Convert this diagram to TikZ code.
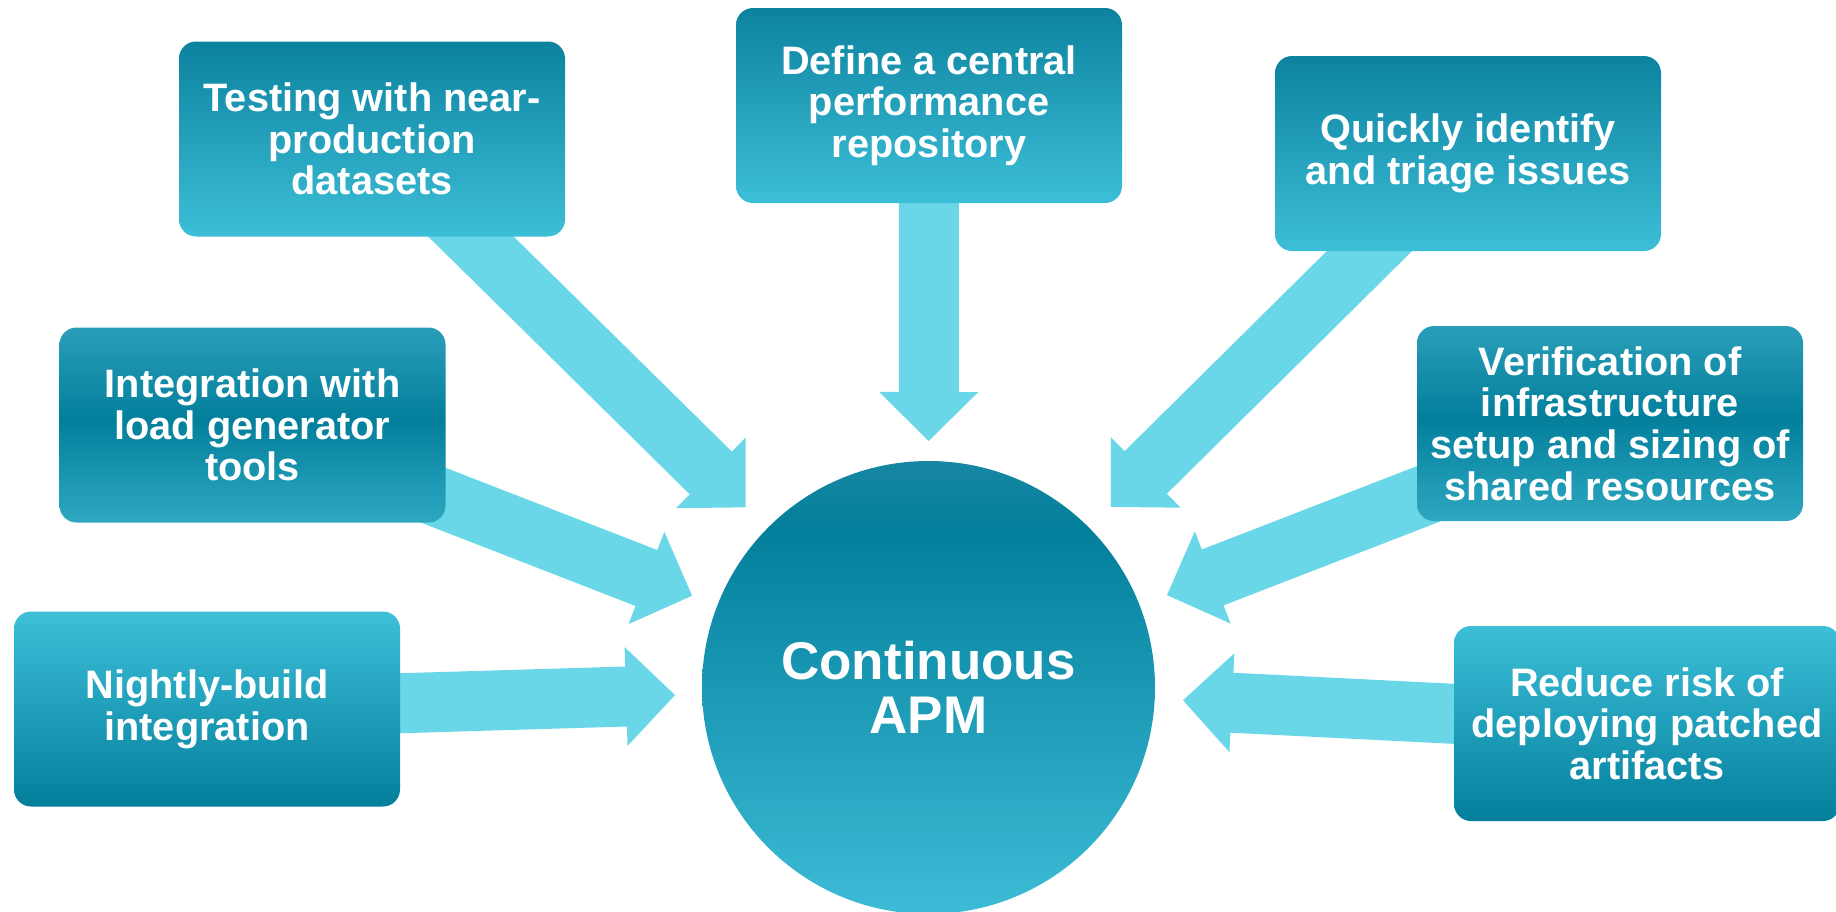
\documentclass[tikz,border=0pt]{standalone}
\usepackage{fontspec}
\setmainfont{Liberation Sans}
\usetikzlibrary{calc}
\definecolor{dk}{HTML}{037F9C}
\definecolor{dktop}{HTML}{0C829F}
\definecolor{lt}{HTML}{3DBFD8}
\definecolor{mt}{HTML}{2A9EB8}
\definecolor{mb}{HTML}{2EA8C1}
\definecolor{ct}{HTML}{1787A2}
\definecolor{cb}{HTML}{3CBCD6}
\definecolor{arr}{HTML}{69D7E7}
\pgfdeclarelayer{bg}
\pgfsetlayers{bg,main}
\pgfdeclareverticalshading{darktop}{100bp}{color(0bp)=(lt); color(25bp)=(lt); color(75bp)=(dktop); color(100bp)=(dktop)}
\pgfdeclareverticalshading{darkbottom}{100bp}{color(0bp)=(dk); color(25bp)=(dk); color(75bp)=(lt); color(100bp)=(lt)}
\pgfdeclareverticalshading{darkmid}{100bp}{color(0bp)=(mb); color(25bp)=(mb); color(51.5bp)=(dk); color(75bp)=(mt); color(100bp)=(mt)}
\pgfdeclareverticalshading{circshade}{100bp}{color(0bp)=(cb); color(25bp)=(cb); color(67.5bp)=(dk); color(75bp)=(ct); color(100bp)=(ct)}
% #1 box node, #2 tip distance from circle centre, #3 distance of head base
\newcommand\apmarrow[3]{%
  \coordinate (#1-t) at ($(apm)!#2pt!(#1)$);
  \coordinate (#1-h) at ($(apm)!#3pt!(#1)$);
  \fill[arrowfill] ($(#1)!30pt!90:(apm)$) -- ($(#1-h)!30pt!90:(apm)$) -- ($(#1-h)!49.5pt!90:(apm)$)
    -- (#1-t) -- ($(#1-h)!49.5pt!-90:(apm)$) -- ($(#1-h)!30pt!-90:(apm)$) -- ($(#1)!30pt!-90:(apm)$) -- cycle;
}
\begin{document}
\begin{tikzpicture}[x=1pt,y=-1pt,
  box/.style={rectangle, rounded corners=17pt, minimum width=386pt, minimum height=195pt,
    inner sep=0pt, align=center, text=white, font=\fontsize{39.7}{41.7}\selectfont\bfseries},
  arrowfill/.style={fill=arr}]
\useasboundingbox (0,0) rectangle (1836,911);
\node[box, shading=darktop] (b1) at (372,139) {Testing with near-\\production\\datasets};
\node[box, shading=darktop] (b2) at (929,105.5) {Define a central\\performance\\repository};
\node[box, shading=darktop] (b3) at (1468,153.5) {Quickly identify\\and triage issues};
\node[box, shading=darkmid] (b4) at (252.5,425) {Integration with\\load generator\\tools};
\node[box, shading=darkmid] (b5) at (1610,423.5) {Verification of\\infrastructure\\setup and sizing of\\shared resources};
\node[box, shading=darkbottom] (b6) at (207,709) {Nightly-build\\integration};
\node[box, shading=darkbottom] (b7) at (1647,723.5) {Reduce risk of\\deploying patched\\artifacts};
\node[circle, minimum size=453pt, inner sep=0pt, shading=circshade, align=center, text=white,
  font=\fontsize{53}{54}\selectfont\bfseries] (apm) at (928.5,687.5) {Continuous\\APM};
\begin{pgfonlayer}{bg}
\apmarrow{b1}{256.7}{305.7}
\apmarrow{b2}{246.5}{295.5}
\apmarrow{b3}{256.7}{305.7}
\apmarrow{b4}{253.6}{302.6}
\apmarrow{b5}{255.8}{304.8}
\apmarrow{b6}{253.6}{302.6}
\apmarrow{b7}{254.8}{303.8}
\end{pgfonlayer}
\end{tikzpicture}
\end{document}
